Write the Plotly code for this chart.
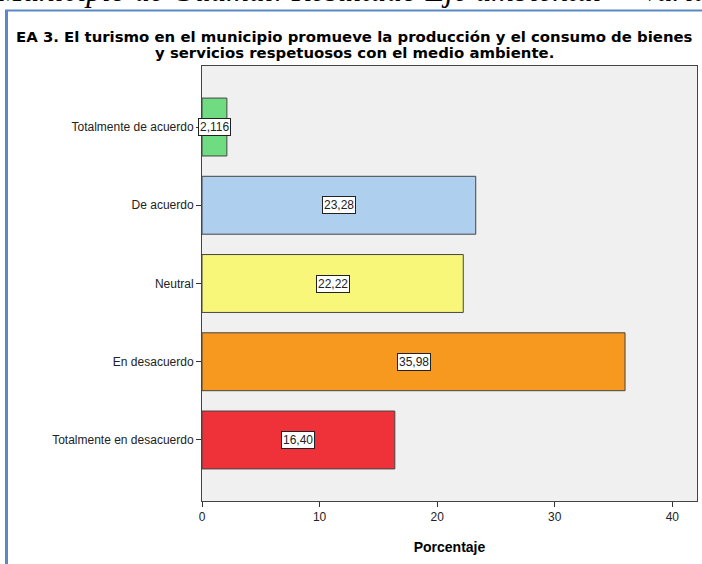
import plotly.graph_objects as go

categorias = ["Totalmente de acuerdo", "De acuerdo", "Neutral", "En desacuerdo", "Totalmente en desacuerdo"]
porcentajes = [2.116, 23.28, 22.22, 35.98, 16.40]
etiquetas = ["2,116", "23,28", "22,22", "35,98", "16,40"]
colores = ["#6fdc82", "#aecfee", "#f9f77a", "#f7981f", "#ef323a"]
xticks = [0, 10, 20, 30, 40]

W, H = 702, 564
L, R, T, B = 202, 697, 66, 501
pw, ph = R - L, B - T


def px(x):
    return (x - L) / pw


def py(y):
    return (B - y) / ph


fig = go.Figure(go.Bar(
    y=categorias, x=porcentajes, orientation="h",
    marker=dict(color=colores, line=dict(color="#444444", width=1)),
    hoverinfo="skip",
))

# value boxes in the middle of each bar
for c, v, t in zip(categorias, porcentajes, etiquetas):
    fig.add_annotation(x=v / 2, y=c, text=t, showarrow=False,
                       font=dict(family="Liberation Sans, Arial", size=12, color="#222"),
                       bgcolor="white", bordercolor="#222", borderwidth=1, borderpad=1)

# cut-off document heading above the chart frame
fig.add_annotation(xref="paper", yref="paper", x=px(-6), y=py(10), xanchor="left", yanchor="bottom",
                   text="<i>Municipio de Guamal: Resultado Eje ambiental &nbsp;– Variable</i>",
                   showarrow=False, font=dict(family="Liberation Serif, Times New Roman", size=31.5, color="black"))

fig.add_annotation(xref="paper", yref="paper", x=px(354), y=py(37), xanchor="center", yanchor="middle",
                   text="<b>EA 3. El turismo en el municipio promueve la producción y el consumo de bienes</b>",
                   showarrow=False, font=dict(family="DejaVu Sans", size=14.9, color="black"))
fig.add_annotation(xref="paper", yref="paper", x=px(354), y=py(53), xanchor="center", yanchor="middle",
                   text="<b>y servicios respetuosos con el medio ambiente.</b>",
                   showarrow=False, font=dict(family="DejaVu Sans", size=14.9, color="black"))

# blue frame of the pasted chart
fig.add_shape(type="line", xref="paper", yref="paper", x0=px(6.5), x1=px(6.5), y0=py(10), y1=py(580),
              line=dict(color="#5b87c5", width=3))
fig.add_shape(type="line", xref="paper", yref="paper", x0=px(5), x1=px(720), y0=py(10.5), y1=py(10.5),
              line=dict(color="#5b87c5", width=2))

fig.update_layout(
    width=W, height=H,
    margin=dict(l=L, r=W - R, t=T, b=H - B, autoexpand=False),
    paper_bgcolor="white", plot_bgcolor="#f0f0f0",
    bargap=0.26, showlegend=False,
    font=dict(family="Liberation Sans, Arial", size=12, color="#222"),
)
fig.update_xaxes(range=[0, 42.1], tickvals=xticks, ticks="outside", ticklen=5, tickcolor="#333",
                 showgrid=False, zeroline=False, showline=True, linecolor="#444", linewidth=1, mirror=True,
                 automargin=False,
                 title=dict(text="<b>Porcentaje</b>", font=dict(size=14, color="black"), standoff=18))
fig.update_yaxes(range=[4.78, -0.78], ticks="outside", ticklen=5, tickcolor="#333",
                 showgrid=False, zeroline=False, showline=True, linecolor="#444", linewidth=1, mirror=True,
                 automargin=False)

fig.write_html("out.html", config={"displayModeBar": False},
               post_script="document.body.style.margin='0';document.body.style.overflow='hidden';")
